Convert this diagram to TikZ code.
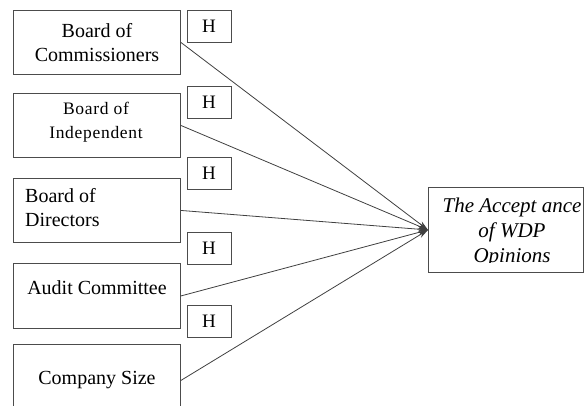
\documentclass[tikz,border=0pt]{standalone}
\usepackage{fontspec}
\setmainfont{Liberation Serif}
\usetikzlibrary{arrows.meta}
\begin{document}
\begin{tikzpicture}[x=1pt,y=-1pt,
  box/.style={draw=black!70, line width=0.9pt, inner sep=0pt, anchor=north west},
  hbox/.style={draw=black!70, line width=0.9pt, inner sep=0pt,
    minimum width=44pt, minimum height=32pt, font=\fontsize{19}{23}\selectfont},
  lbl/.style={inner sep=0pt, align=center, font=\fontsize{20}{24}\selectfont},
  link/.style={draw=black!75, line width=0.8pt, -{Stealth[length=10pt,width=6pt]}}
]
\clip (0,0) rectangle (584,406);

% independent variables
\node[box, minimum width=167pt, minimum height=64pt] (bc) at (13,10) {};
\node[box, minimum width=167pt, minimum height=64pt] (bi) at (13,93) {};
\node[box, minimum width=167pt, minimum height=64pt] (bd) at (13,178) {};
\node[box, minimum width=167pt, minimum height=65pt] (ac) at (13,263) {};
\node[box, minimum width=167pt, minimum height=72pt] (cs) at (13,344) {};

\node[lbl] (tbc) at (97,43) {Board of\\Commissioners};
\node[lbl, font=\fontsize{17.5}{24}\selectfont\addfontfeature{LetterSpace=4}] (tbi) at (96,122) {Board of\\Independent};
\node[lbl, align=left, anchor=west] (tbd) at (25,208) {Board of\\Directors};
\node[lbl] (tac) at (97,288) {Audit Committee};
\node[lbl] (tcs) at (97,380) {Company Size};

% hypothesis labels
\node[hbox] (h1) at (209,26) {H};
\node[hbox] (h2) at (209,102) {H};
\node[hbox] (h3) at (209,173) {H};
\node[hbox] (h4) at (209,248) {H};
\node[hbox] (h5) at (209,321) {H};

% dependent variable
\node[box, minimum width=155pt, minimum height=85pt] (wdp) at (428,187) {};
\begin{scope}
  \clip (429,188) rectangle (582,263);
  \node[lbl, font=\fontsize{21}{25}\selectfont\itshape] (twdp) at (512,232)
    {The Accept ance\\of WDP\\Opinions};
\end{scope}

% relations
\draw[link] (bc.east) -- (wdp.west);
\draw[link] (bi.east) -- (wdp.west);
\draw[link] (bd.east) -- (wdp.west);
\draw[link] (ac.east) -- (wdp.west);
\draw[link] (cs.east) -- (wdp.west);
\end{tikzpicture}
\end{document}
